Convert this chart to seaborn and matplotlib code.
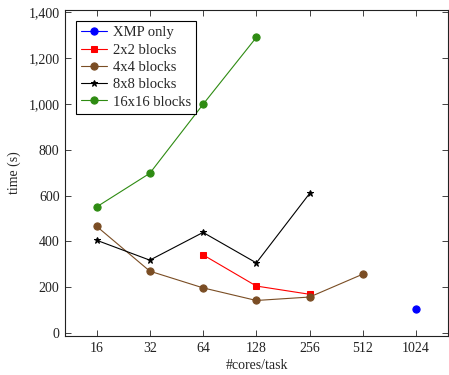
import matplotlib
matplotlib.use("Agg")
import matplotlib.pyplot as plt
import matplotlib.ticker as mticker
import seaborn as sns
import pandas as pd

# data
xmp_cores = [1024]
xmp_time = [103]

b2_cores = [64, 128, 256]
b2_time = [341, 205, 169]

b4_cores = [16, 32, 64, 128, 256, 512]
b4_time = [466, 270, 197, 142, 157, 257]

b8_cores = [16, 32, 64, 128, 256]
b8_time = [405, 318, 439, 306, 609]

b16_cores = [16, 32, 64, 128]
b16_time = [550, 697, 998, 1290]

xticks = [16, 32, 64, 128, 256, 512, 1024]

series = [
    ("XMP only", xmp_cores, xmp_time, "#0000ff", "o", 5.2),
    ("2x2 blocks", b2_cores, b2_time, "#ff0000", "s", 4.8),
    ("4x4 blocks", b4_cores, b4_time, "#7a4d24", "o", 5.2),
    ("8x8 blocks", b8_cores, b8_time, "#000000", "*", 4.5),
    ("16x16 blocks", b16_cores, b16_time, "#2e8b12", "o", 5.2),
]

sns.set_style("ticks")
plt.rcParams["font.family"] = ["Liberation Serif", "DejaVu Serif"]

fig = plt.figure(figsize=(4.49, 3.75), dpi=100)
ax = fig.add_axes([0.145, 0.104, 0.853, 0.869])

for name, xs, ys, col, mk, ms in series:
    d = pd.DataFrame({"cores": xs, "time": ys})
    sns.lineplot(data=d, x="cores", y="time", ax=ax, color=col, marker=mk,
                 markersize=ms, markeredgecolor=col, linewidth=0.8, label=name)

ax.set_xscale("log", base=2)
ax.set_xlim(2 ** 3.41, 2 ** 10.6)
ax.set_xticks(xticks)
ax.set_xticklabels([str(v) for v in xticks])
ax.xaxis.set_minor_locator(mticker.NullLocator())
ax.set_ylim(-13, 1409)
ax.set_yticks(range(0, 1401, 200))
ax.yaxis.set_major_formatter(mticker.FuncFormatter(lambda v, p: f"{int(v):,}"))

ax.tick_params(direction="in", top=True, right=True, length=4, width=0.6,
               labelsize=10, colors="#222222", pad=4)
for s in ax.spines.values():
    s.set_linewidth(0.8)
    s.set_color("#222222")

ax.set_xlabel("#cores/task", fontsize=10, labelpad=3)
ax.set_ylabel("time (s)", fontsize=10, labelpad=5)

leg = ax.legend(loc="upper left", prop={"size": 10.5}, fancybox=False,
                framealpha=1, edgecolor="black", handlelength=1.8,
                borderpad=0.35, labelspacing=0.28, handletextpad=0.4,
                borderaxespad=0.75)
leg.get_frame().set_linewidth(0.8)

fig.savefig("out.png", dpi=100)
